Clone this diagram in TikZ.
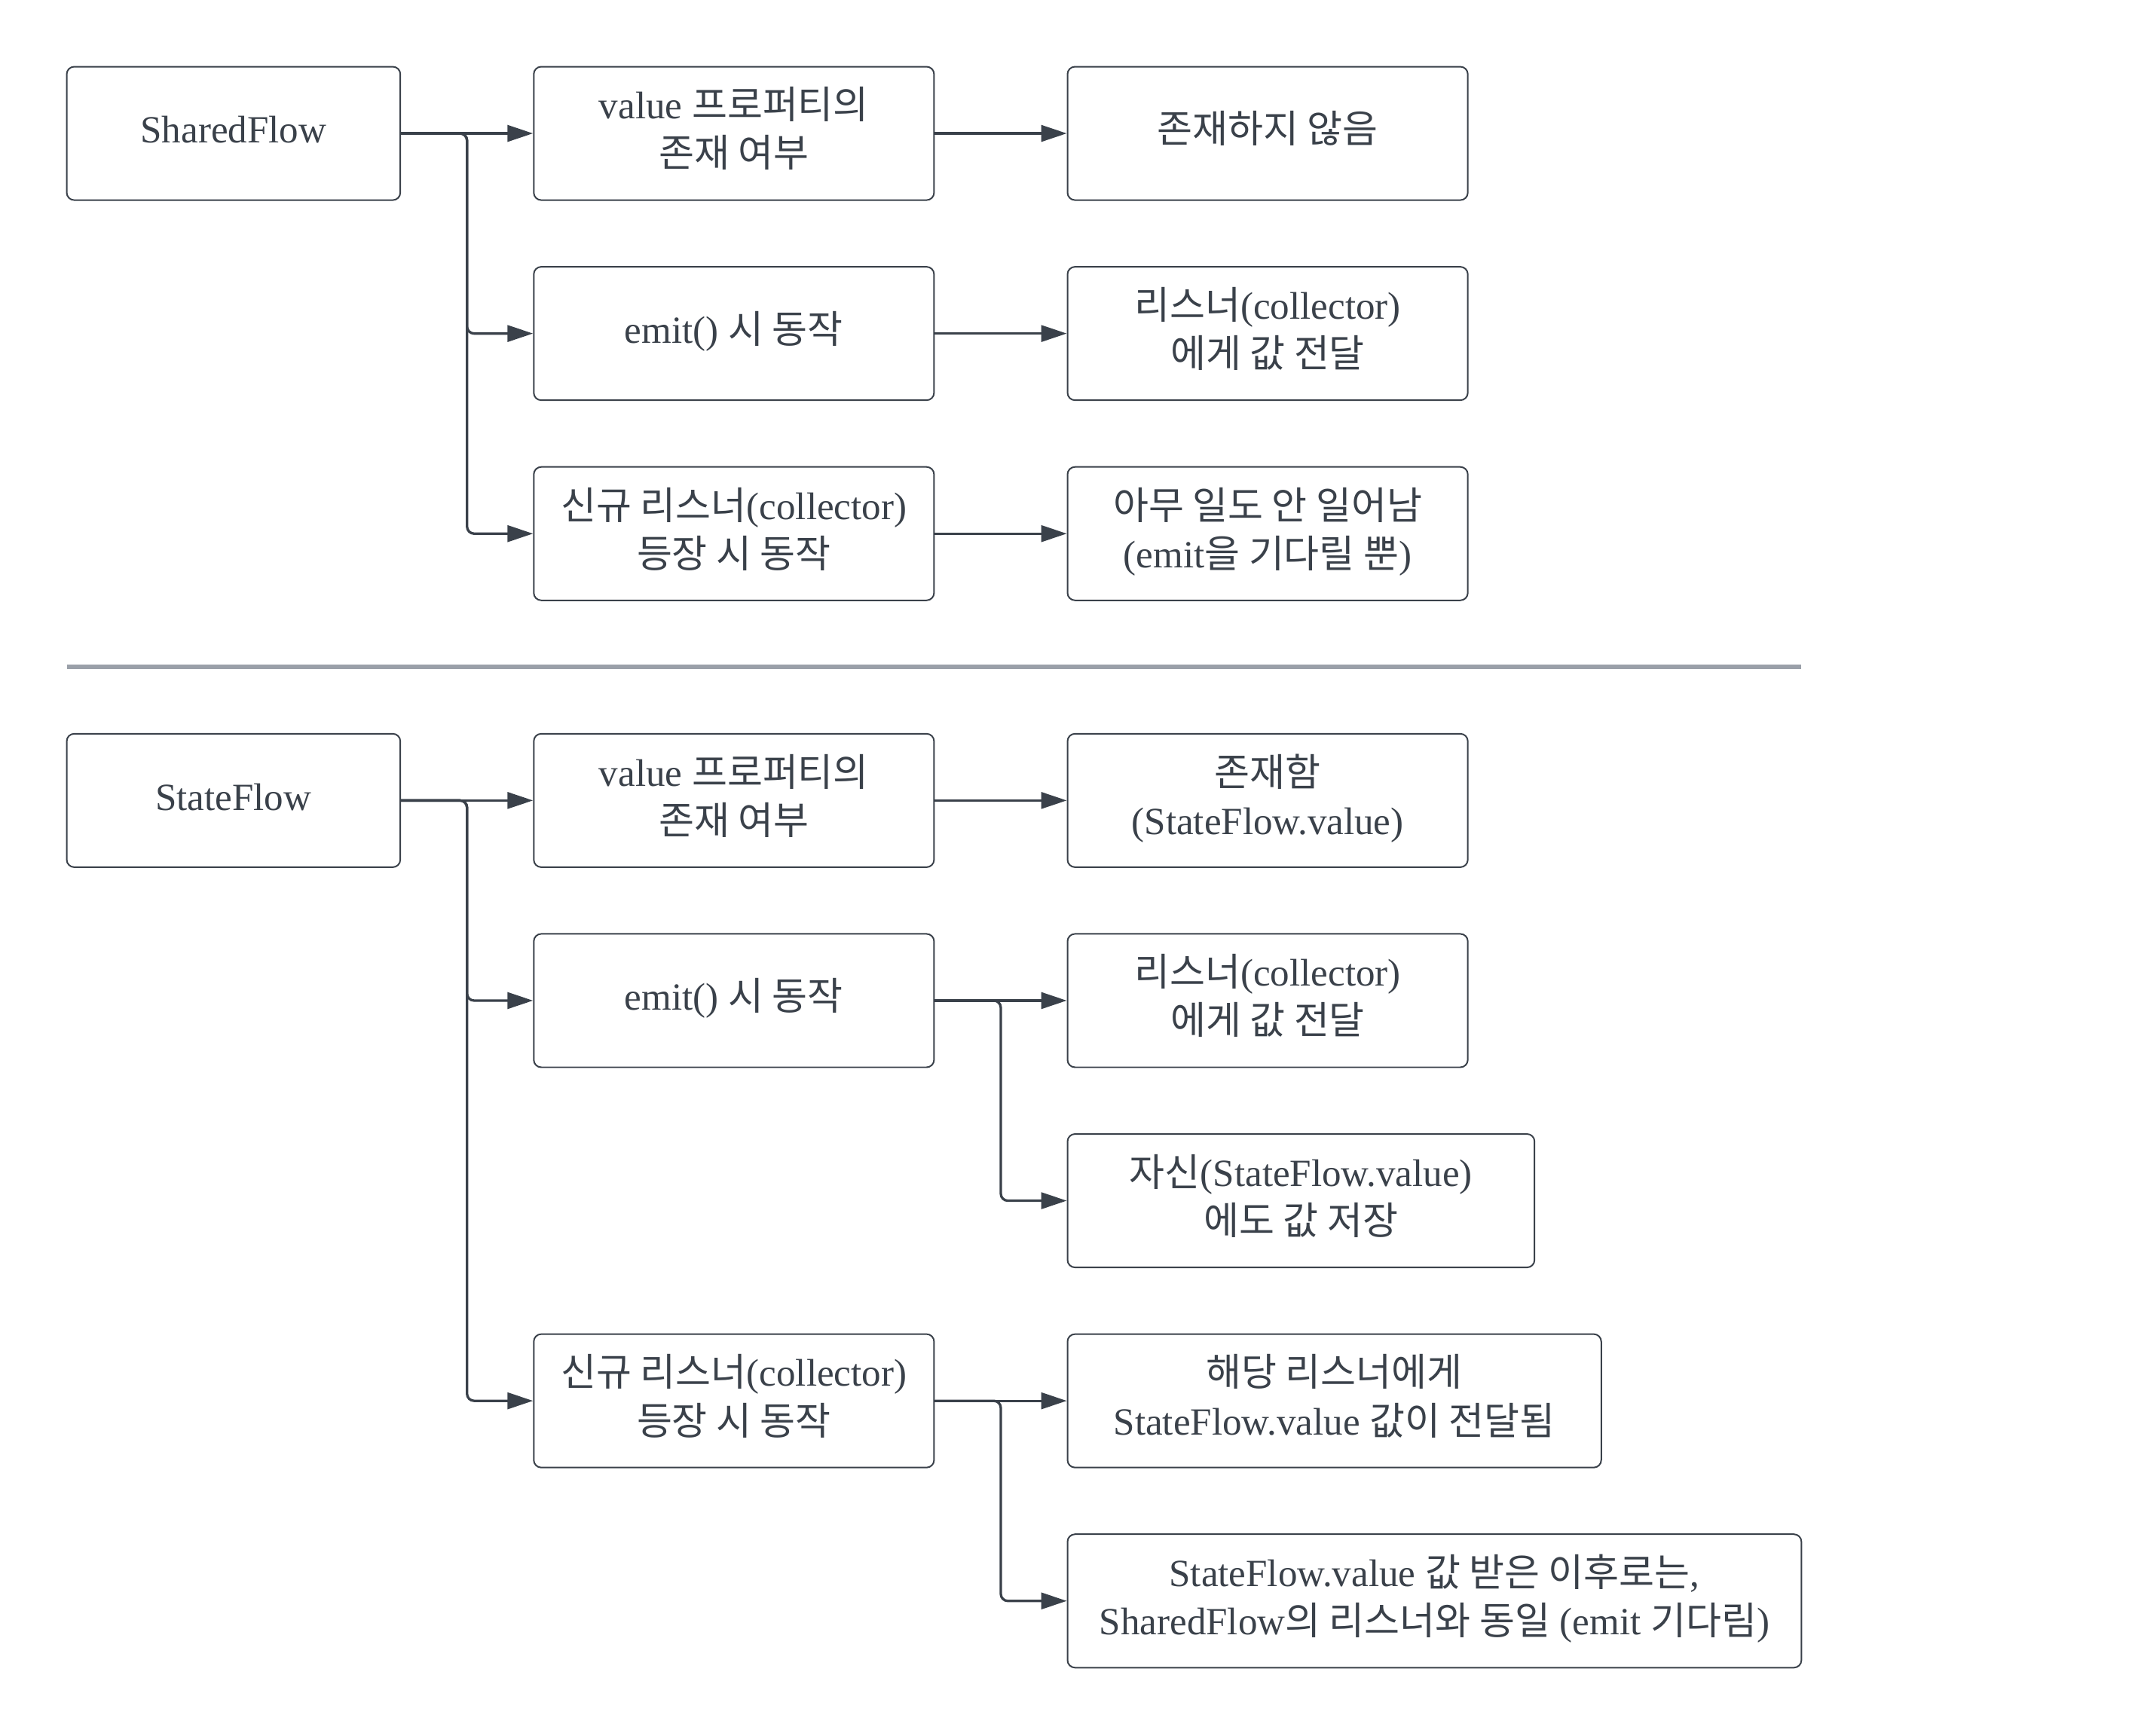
\documentclass[tikz,border=0pt]{standalone}
\usepackage{fontspec}
\setmainfont{Liberation Serif}
\newfontfamily\krfont{Noto Sans CJK KR}
\newcommand{\hg}[1]{{\krfont #1}}
\newcommand{\tx}[1]{\raisebox{1.6pt}{\begin{tabular}{@{}c@{}}#1\end{tabular}}}
\usetikzlibrary{arrows.meta}
\definecolor{linec}{HTML}{3A414A}
\definecolor{textc}{HTML}{3A414A}
\definecolor{sepc}{HTML}{9AA0A9}
\begin{document}
\begin{tikzpicture}[x=1cm,y=-1cm,
  box/.style={draw=linec, line width=0.64pt, rounded corners=3.2pt, minimum height=2cm,
    text=textc, align=center, font=\fontsize{16.4}{20.6}\selectfont, inner sep=0pt, fill=white},
  conn/.style={draw=linec, line width=1.06pt, rounded corners=3pt,
    -{Triangle[length=10.9pt,width=7pt]}},
  sepline/.style={draw=sepc, line width=1.93pt}]
\useasboundingbox[fill=white] (0,0) rectangle (32,26.014);

% ---------- SharedFlow ----------
\node[box, minimum width=5cm] (sf) at (3.5,2) {\tx{SharedFlow}};
\node[box, minimum width=6cm] (sv) at (11,2) {\tx{value \hg{프로퍼티의}\\\hg{존재 여부}}};
\node[box, minimum width=6cm] (se) at (11,5) {\tx{emit() \hg{시 동작}}};
\node[box, minimum width=6cm] (sn) at (11,8) {\tx{\hg{신규 리스너}(collector)\\\hg{등장 시 동작}}};
\node[box, minimum width=6cm] (r1) at (19,2) {\tx{\hg{존재하지 않음}}};
\node[box, minimum width=6cm] (r2) at (19,5) {\tx{\hg{리스너}(collector)\\\hg{에게 값 전달}}};
\node[box, minimum width=6cm] (r3) at (19,8) {\tx{\hg{아무 일도 안 일어남}\\(emit\hg{을 기다릴 뿐})}};

\coordinate (js) at (7,2);
\draw[conn] (sf.east) -- (sv.west);
\draw[conn] (sf.east) -- (js) |- (se.west);
\draw[conn] (sf.east) -- (js) |- (sn.west);
\draw[conn] (sv.east) -- (r1.west);
\draw[conn] (se.east) -- (r2.west);
\draw[conn] (sn.east) -- (r3.west);

% ---------- separator ----------
\coordinate (sepa) at (1,10);
\coordinate (sepb) at (27,10);
\draw[sepline] (sepa) -- (sepb);

% ---------- StateFlow ----------
\node[box, minimum width=5cm] (stf) at (3.5,12) {\tx{StateFlow}};
\node[box, minimum width=6cm] (tv) at (11,12) {\tx{value \hg{프로퍼티의}\\\hg{존재 여부}}};
\node[box, minimum width=6cm] (te) at (11,15) {\tx{emit() \hg{시 동작}}};
\node[box, minimum width=6cm] (tn) at (11,21) {\tx{\hg{신규 리스너}(collector)\\\hg{등장 시 동작}}};
\node[box, minimum width=6cm] (u1) at (19,12) {\tx{\hg{존재함}\\(StateFlow.value)}};
\node[box, minimum width=6cm] (u2) at (19,15) {\tx{\hg{리스너}(collector)\\\hg{에게 값 전달}}};
\node[box, minimum width=7cm] (u3) at (19.5,18) {\tx{\hg{자신}(StateFlow.value)\\\hg{에도 값 저장}}};
\node[box, minimum width=8cm] (u4) at (20,21) {\tx{\hg{해당 리스너에게}\\StateFlow.value \hg{값이 전달됨}}};
\node[box, minimum width=11cm] (u5) at (21.5,24) {\tx{StateFlow.value \hg{값 받은 이후로는},\\SharedFlow\hg{의 리스너와 동일} (emit \hg{기다림})}};

\coordinate (jt) at (7,12);
\draw[conn] (stf.east) -- (tv.west);
\draw[conn] (stf.east) -- (jt) |- (te.west);
\draw[conn] (stf.east) -- (jt) |- (tn.west);
\draw[conn] (tv.east) -- (u1.west);
\coordinate (je) at (15,15);
\draw[conn] (te.east) -- (u2.west);
\draw[conn] (te.east) -- (je) |- (u3.west);
\coordinate (jn) at (15,21);
\draw[conn] (tn.east) -- (u4.west);
\draw[conn] (tn.east) -- (jn) |- (u5.west);
\end{tikzpicture}
\end{document}
